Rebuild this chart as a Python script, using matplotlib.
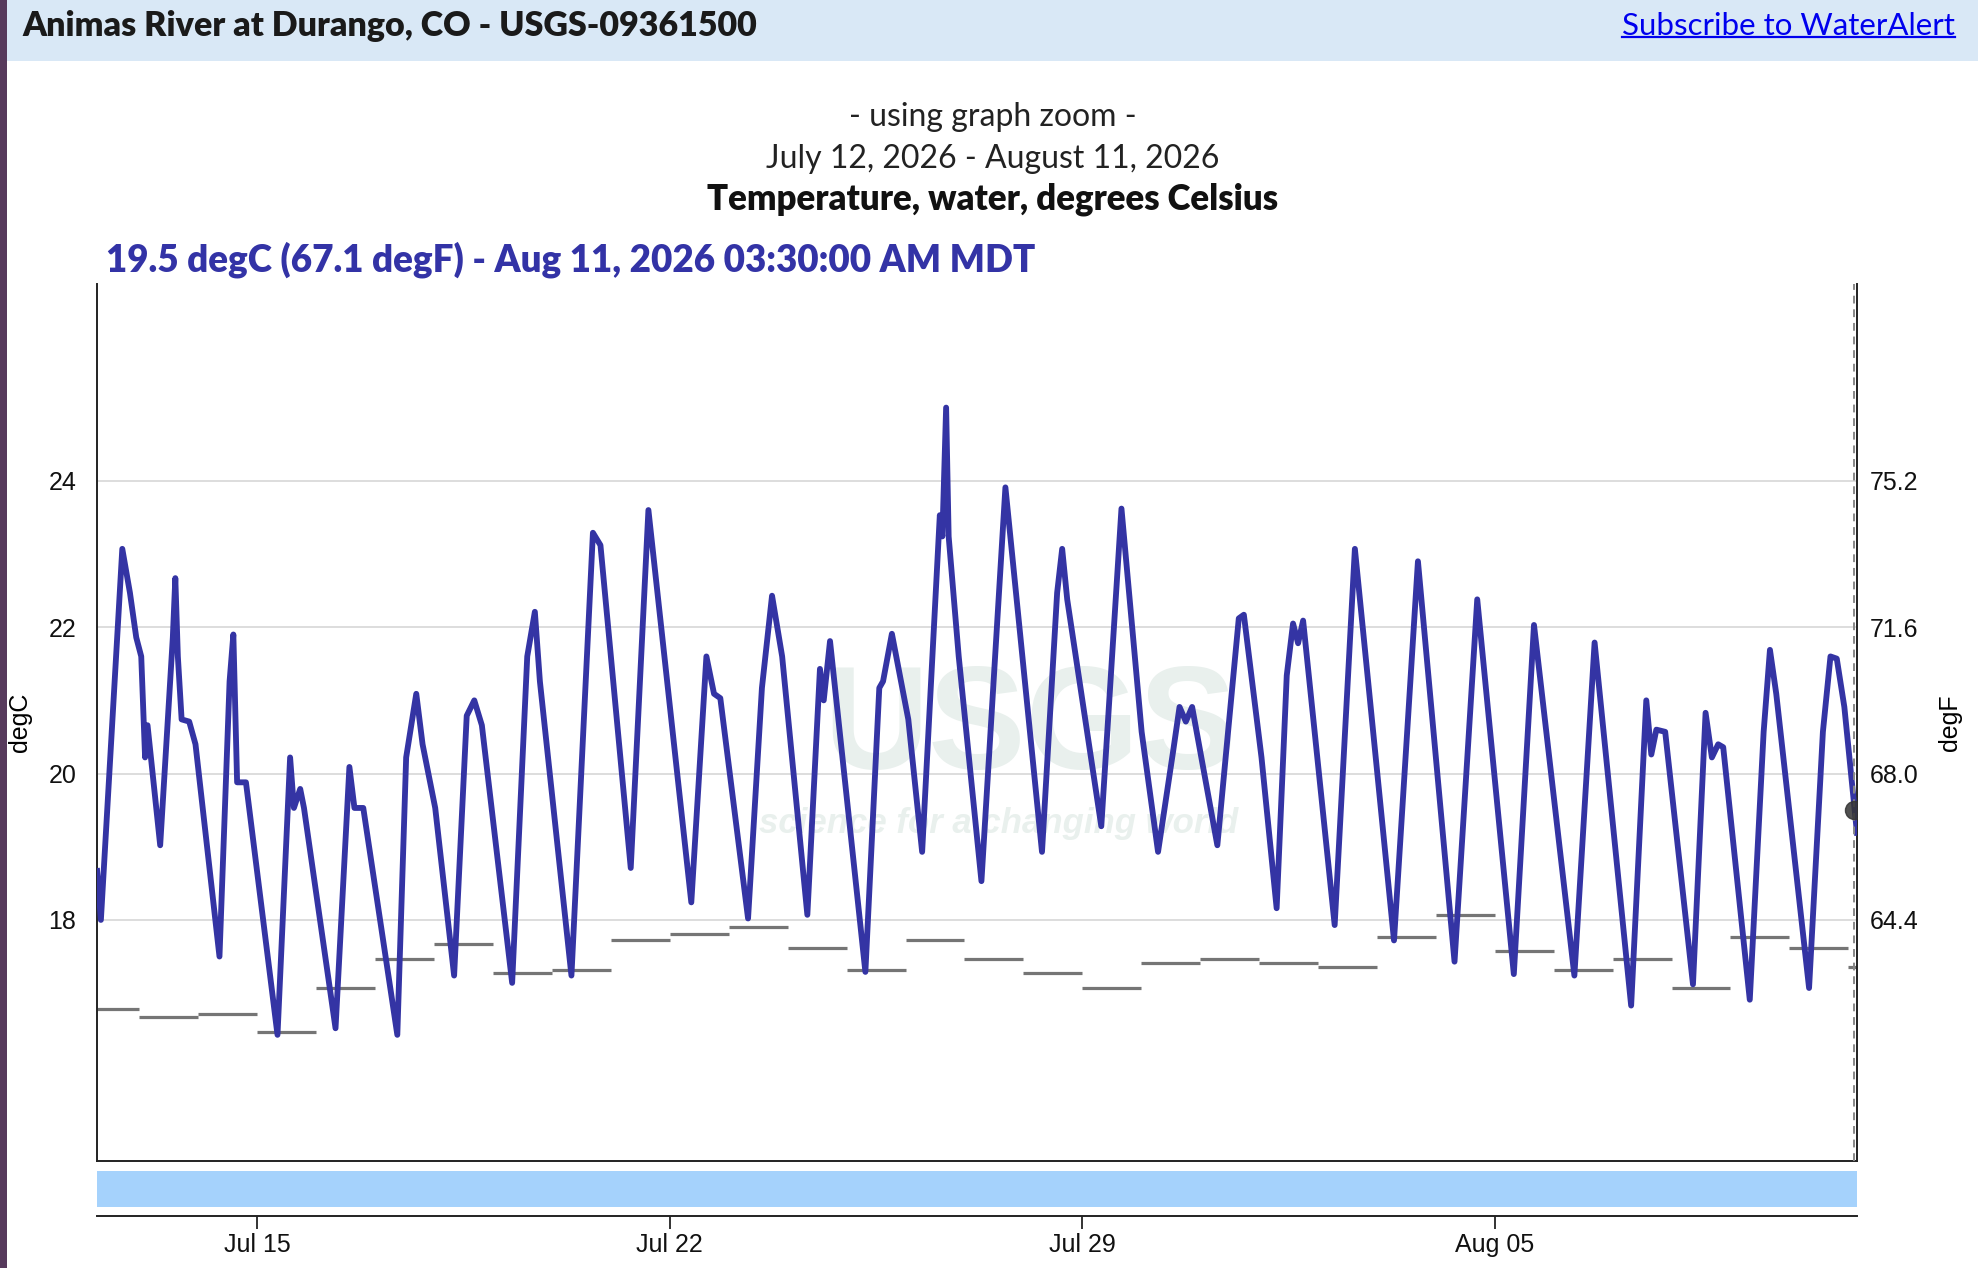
import matplotlib
matplotlib.use("Agg")
import matplotlib.pyplot as plt
import matplotlib.dates as mdates
from matplotlib.patches import Rectangle
from matplotlib.lines import Line2D
import pandas as pd

# water temperature, turning points of the 15-minute record (degC)
times = ["07-12 06:45", "07-12 08:17", "07-12 17:00", "07-12 20:07", "07-12 22:41",
         "07-13 00:43", "07-13 02:17", "07-13 03:17", "07-13 08:26", "07-13 13:35",
         "07-13 14:36", "07-13 15:38", "07-13 17:10", "07-13 20:15", "07-13 22:49",
         "07-14 08:35", "07-14 12:42", "07-14 14:14", "07-14 15:46", "07-14 19:22",
         "07-15 08:13", "07-15 13:21", "07-15 14:54", "07-15 17:28", "07-15 19:00",
         "07-16 07:51", "07-16 13:30", "07-16 15:33", "07-16 19:09",
         "07-17 09:01", "07-17 12:37", "07-17 16:44", "07-17 19:18",
         "07-18 00:27", "07-18 08:09", "07-18 13:17", "07-18 16:22", "07-18 19:27",
         "07-19 07:47", "07-19 13:56", "07-19 17:02", "07-19 19:05",
         "07-20 07:56", "07-20 16:41", "07-20 19:45",
         "07-21 08:05", "07-21 15:17",
         "07-22 08:45", "07-22 14:54", "07-22 18:00", "07-22 20:34",
         "07-23 07:52", "07-23 13:31", "07-23 17:38", "07-23 21:45",
         "07-24 08:01", "07-24 13:09", "07-24 14:41", "07-24 17:15",
         "07-25 07:39", "07-25 13:19", "07-25 14:51", "07-25 18:27",
         "07-26 01:08", "07-26 06:46", "07-26 13:58", "07-26 15:00", "07-26 16:32",
         "07-26 17:34", "07-26 21:40",
         "07-27 06:55", "07-27 16:41",
         "07-28 07:35", "07-28 13:45", "07-28 15:48", "07-28 17:51",
         "07-29 07:44", "07-29 15:57",
         "07-30 00:10", "07-30 06:51", "07-30 13:01", "07-30 15:36", "07-30 18:10",
         "07-30 20:44",
         "07-31 07:00", "07-31 15:44", "07-31 17:48",
         "08-01 00:59", "08-01 07:09", "08-01 11:16", "08-01 13:50", "08-01 15:53",
         "08-01 17:56",
         "08-02 06:47", "08-02 15:01",
         "08-03 06:57", "08-03 16:42",
         "08-04 07:36", "08-04 16:51",
         "08-05 07:45", "08-05 15:58",
         "08-06 08:25", "08-06 16:39",
         "08-07 07:32", "08-07 13:42", "08-07 15:45", "08-07 17:48", "08-07 21:24",
         "08-08 08:43", "08-08 13:51", "08-08 16:25", "08-08 18:59", "08-08 21:02",
         "08-09 07:51", "08-09 13:30", "08-09 16:04", "08-09 18:38",
         "08-10 08:00", "08-10 13:38", "08-10 16:43", "08-10 19:17", "08-10 22:22",
         "08-11 03:30"]
temps = [18.67, 18.0, 23.07, 22.47, 21.86,
         21.6, 20.22, 20.66, 19.02, 21.86,
         22.67, 21.6, 20.74, 20.71, 20.4,
         17.5, 21.26, 21.9, 19.88, 19.88,
         16.43, 20.22, 19.53, 19.79, 19.53,
         16.52, 20.09, 19.53, 19.53,
         16.43, 20.22, 21.09, 20.4,
         19.53, 17.24, 20.79, 21.0, 20.66,
         17.14, 21.6, 22.21, 21.26,
         17.24, 23.29, 23.12,
         18.71, 23.6,
         18.24, 21.6, 21.09, 21.03,
         18.02, 21.17, 22.43, 21.6,
         18.07, 21.43, 21.0, 21.81,
         17.29, 21.17, 21.26, 21.91,
         20.74, 18.93, 23.53, 23.24, 25.0,
         23.24, 21.6,
         18.53, 23.91,
         18.93, 22.47, 23.07, 22.38,
         19.28, 23.62,
         20.57, 18.93, 20.31, 20.91, 20.71,
         20.91,
         19.02, 22.12, 22.17,
         20.22, 18.16, 21.34, 22.05, 21.78,
         22.09,
         17.93, 23.07,
         17.72, 22.9,
         17.43, 22.38,
         17.26, 22.03,
         17.24, 21.79,
         16.83, 21.0, 20.26, 20.6, 20.57,
         17.12, 20.83, 20.22, 20.4, 20.36,
         16.91, 20.57, 21.69, 21.09,
         17.07, 20.57, 21.6, 21.57, 20.91,
         19.19]

# daily median of historical daily mean (degC)
median_days = ["07-12", "07-13", "07-14", "07-15", "07-16", "07-17", "07-18", "07-19",
               "07-20", "07-21", "07-22", "07-23", "07-24", "07-25", "07-26", "07-27",
               "07-28", "07-29", "07-30", "07-31", "08-01", "08-02", "08-03", "08-04",
               "08-05", "08-06", "08-07", "08-08", "08-09", "08-10", "08-11"]
median_vals = [16.78, 16.67, 16.72, 16.47, 17.07, 17.47, 17.67, 17.28,
               17.31, 17.72, 17.81, 17.91, 17.62, 17.31, 17.72, 17.47,
               17.28, 17.07, 17.41, 17.47, 17.41, 17.36, 17.76, 18.07,
               17.57, 17.31, 17.47, 17.07, 17.76, 17.62, 17.36]

latest_value = 19.5
degf_ticks = [64.4, 68.0, 71.6, 75.2]
degc_ticks = [18, 20, 22, 24]

t = pd.to_datetime(["2026-" + s for s in times])
t0, t1 = t[0], t[-1]
days = pd.to_datetime(["2026-" + d for d in median_days])

line_col = "#3434a4"
plt.rcParams["font.family"] = ["Liberation Sans", "DejaVu Sans"]

fig = plt.figure(figsize=(19.78, 12.68), dpi=100)

# page decoration
fig.patches.append(Rectangle((0, 0.9522), 1, 0.0478, transform=fig.transFigure,
                             facecolor="#d9e8f6", edgecolor="none", zorder=0))
fig.patches.append(Rectangle((0, 0), 0.0034, 1, transform=fig.transFigure,
                             facecolor="#573a5c", edgecolor="none", zorder=1))

fig.text(0.0115, 0.9795, "Animas River at Durango, CO - USGS-09361500",
         fontsize=24.5, fontweight="heavy", family="Lato", color="#1a1a1a", va="center")
link = fig.text(0.9885, 0.9795, "Subscribe to WaterAlert", fontsize=22.5,
                family="Lato", color="#0000ee", ha="right", va="center")

fig.text(0.502, 0.9075, "- using graph zoom -", fontsize=23, family="Lato",
         color="#222222", ha="center", va="center")
fig.text(0.502, 0.8746, "July 12, 2026 - August 11, 2026", fontsize=23, family="Lato",
         color="#222222", ha="center", va="center")
fig.text(0.502, 0.8428, "Temperature, water, degrees Celsius", fontsize=25,
         fontweight="heavy", family="Lato", color="#111111", ha="center", va="center")
fig.text(0.0536, 0.7950,
         f"{latest_value} degC ({latest_value * 1.8 + 32:.1f} degF) - Aug 11, 2026 03:30:00 AM MDT",
         fontsize=26.5, fontweight="heavy", family="Lato", color="#3333a6", va="center")

# main plot
ax = fig.add_axes([0.0491, 0.0846, 0.8897, 0.6915])
ax.set_xlim(t0, t1)
ax.set_ylim(14.71, 26.69)
ax.set_yticks(degc_ticks)
ax.set_yticklabels([str(v) for v in degc_ticks])
ax.tick_params(axis="y", length=0, pad=15, labelsize=18, colors="#111111")
ax.set_xticks([])
ax.grid(axis="y", color="#dddddd", linewidth=1.4)
ax.set_axisbelow(True)
ax.spines["top"].set_visible(False)
for s in ("left", "bottom", "right"):
    ax.spines[s].set_linewidth(1.4)
    ax.spines[s].set_color("#222222")
ax.set_ylabel("degC", fontsize=18, labelpad=12)

# watermark
ax.text(0.53, 0.49, "USGS", transform=ax.transAxes, fontsize=105,
        fontweight="bold", family=["Liberation Sans Narrow", "Liberation Sans"],
        color="#e9f0ed", ha="center", va="center", zorder=0.5)
ax.text(0.512, 0.385, "science for a changing world", transform=ax.transAxes,
        fontsize=25, fontweight="bold", style="italic", color="#e9f0ed",
        ha="center", va="center", zorder=0.5)

# daily medians as steps
for i, d in enumerate(days):
    start = max(d, t0)
    end = min(d + pd.Timedelta(days=1), t1)
    ax.plot([start, end], [median_vals[i], median_vals[i]], color="#757575",
            linewidth=2.3, solid_capstyle="butt", zorder=2)

ax.plot(t, temps, color=line_col, linewidth=4.2, zorder=3)

cursor = t1 - pd.Timedelta(minutes=70)
ax.axvline(cursor, color="#888888", linestyle=(0, (4, 3)), linewidth=1.4, zorder=4)
ax.plot([cursor], [latest_value], "o", color="#333333", alpha=0.85,
        markersize=13, zorder=5)

sec = ax.secondary_yaxis("right", functions=(lambda c: c * 1.8 + 32,
                                              lambda f: (f - 32) / 1.8))
sec.set_yticks(degf_ticks)
sec.set_yticklabels([f"{v:.1f}" for v in degf_ticks])
sec.tick_params(length=0, pad=9, labelsize=18, colors="#111111")
sec.spines["right"].set_visible(False)
sec.set_ylabel("degF", fontsize=18, labelpad=14)

# brush bar
brush = fig.add_axes([0.0491, 0.0478, 0.8897, 0.0289])
brush.set_facecolor("#a5d2fc")
brush.set_xticks([])
brush.set_yticks([])
for s in brush.spines.values():
    s.set_visible(False)

# date axis under the brush
xax = fig.add_axes([0.0491, 0.0408, 0.8897, 0.0001])
xax.set_xlim(t0, t1)
xax.set_yticks([])
for s in ("top", "left", "right"):
    xax.spines[s].set_visible(False)
xax.spines["bottom"].set_linewidth(1.4)
xax.spines["bottom"].set_color("#222222")
xax.xaxis.set_major_locator(mdates.DayLocator(bymonthday=[15, 22, 29, 5]))
xax.xaxis.set_major_formatter(mdates.DateFormatter("%b %d"))
xax.tick_params(axis="x", length=9, width=1.2, pad=3, labelsize=18, colors="#111111")
xax.patch.set_visible(False)

# underline the link
fig.canvas.draw()
bb = link.get_window_extent(renderer=fig.canvas.get_renderer())
bb = bb.transformed(fig.transFigure.inverted())
fig.lines.append(Line2D([bb.x0, bb.x1], [bb.y0 + 0.002, bb.y0 + 0.002],
                        transform=fig.transFigure, color="#0000ee", linewidth=1.6))

fig.savefig("out.png", dpi=100)
